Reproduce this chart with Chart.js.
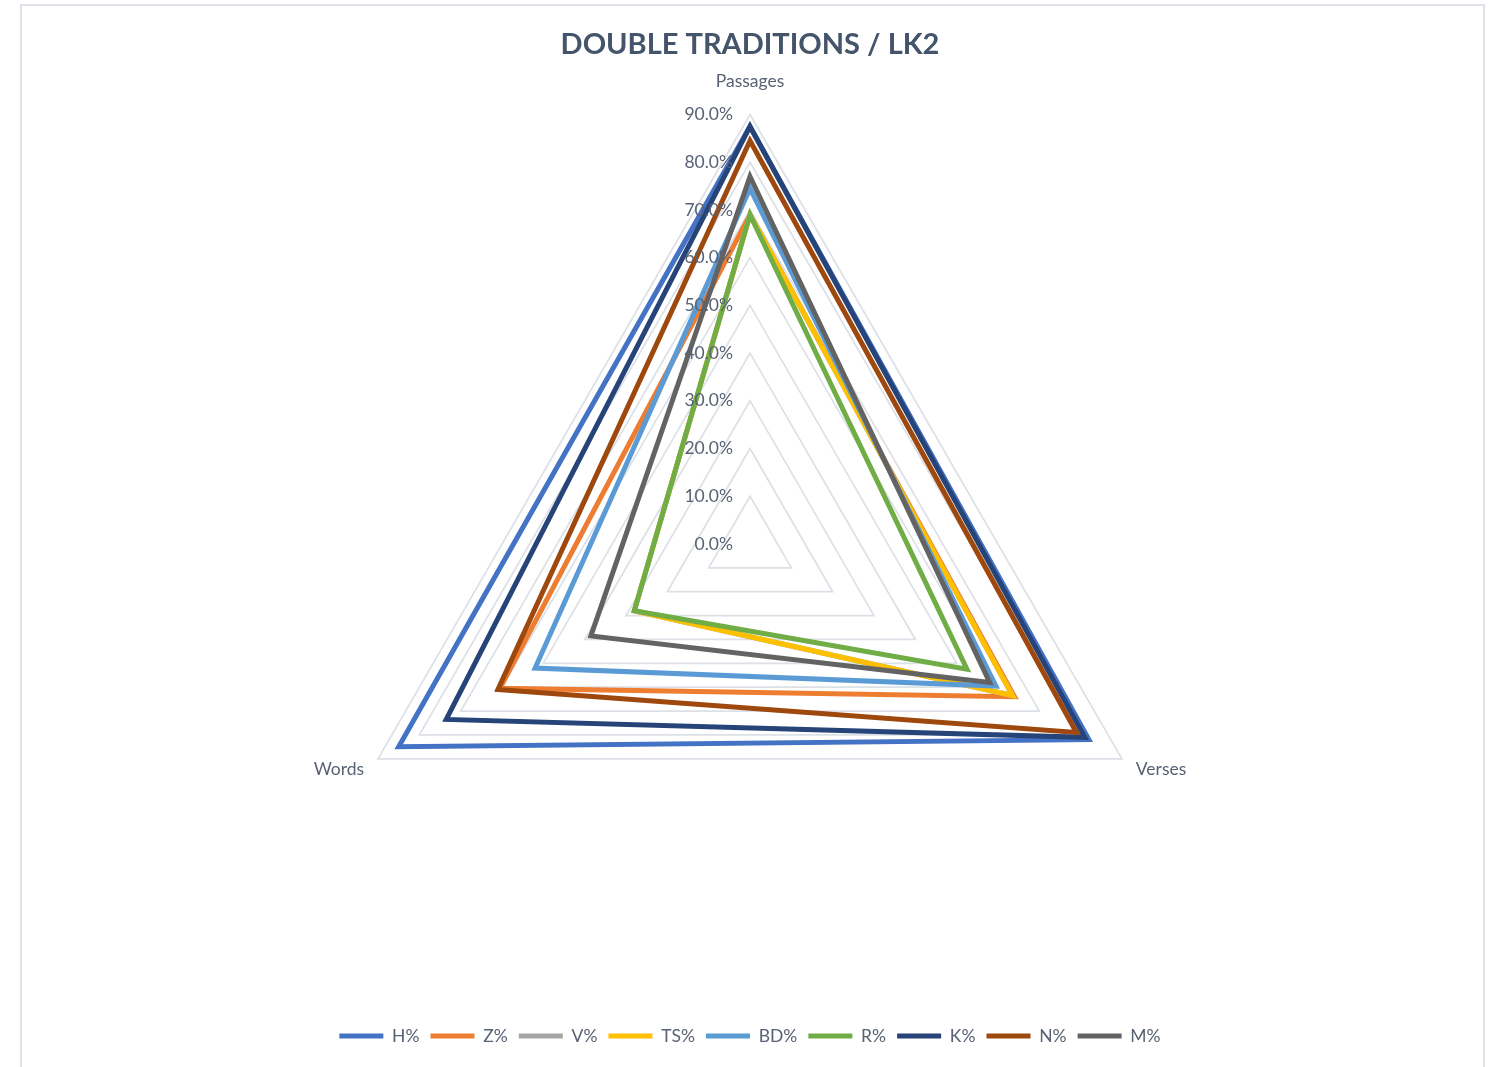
<!DOCTYPE html>
<html lang="en">
<head>
    <meta charset="UTF-8">
    <script src="https://cdn.jsdelivr.net/npm/chart.js"></script>
    <title>Double Traditions / LK2</title>
    <style>
        body { margin: 0; background: #fff; overflow: hidden; }
    </style>
</head>
<body>
    <canvas id="radar" width="1503" height="1067"></canvas>
    <script>
        // axes: top, bottom-right, bottom-left (clockwise)
        const categories = ['Passages', 'Verses', 'Words'];
        const seriesNames = ['H%', 'Z%', 'V%', 'TS%', 'BD%', 'R%', 'K%', 'N%', 'M%'];
        const H  = [87.5, 82.0, 85.0];
        const Z  = [69.0, 64.0, 60.5];
        const V  = [69.0, 63.5, 28.0];
        const TS = [69.0, 63.5, 28.0];
        const BD = [74.5, 59.5, 52.0];
        const R  = [69.0, 52.5, 28.0];
        const K  = [87.5, 81.0, 73.5];
        const N  = [84.5, 79.0, 61.0];
        const M  = [77.0, 58.0, 38.5];
        const tickValues = [0, 10, 20, 30, 40, 50, 60, 70, 80, 90];
        const tickLabels = ['0.0%', '10.0%', '20.0%', '30.0%', '40.0%', '50.0%', '60.0%', '70.0%', '80.0%', '90.0%'];

        const values = [H, Z, V, TS, BD, R, K, N, M];
        const colors = ['#4472C4', '#ED7D31', '#A5A5A5', '#FFC000', '#5B9BD5', '#70AD47', '#264478', '#9E480E', '#636363'];
        const TEXT = '#586274';
        const FONT_SIZE = 17.5;

        // tick labels sit left of the vertical axis, right aligned, on top of the lines
        const tickLabelPlugin = {
            id: 'tickLabels',
            afterDatasetsDraw(chart) {
                const r = chart.scales.r;
                const ctx = chart.ctx;
                ctx.save();
                ctx.font = FONT_SIZE + 'px Lato';
                ctx.fillStyle = TEXT;
                ctx.textAlign = 'right';
                ctx.textBaseline = 'middle';
                tickValues.forEach((v, i) => {
                    const y = r.yCenter - r.getDistanceFromCenterForValue(v);
                    ctx.fillText(tickLabels[i], r.xCenter - 17, y);
                });
                ctx.restore();
            }
        };

        // thin frame like the Excel chart area
        const framePlugin = {
            id: 'frame',
            beforeDraw(chart) {
                const ctx = chart.ctx;
                ctx.save();
                ctx.strokeStyle = '#dde2e9';
                ctx.lineWidth = 2;
                ctx.strokeRect(21, 5, 1463, 1100);
                ctx.restore();
            }
        };

        const datasets = seriesNames.map((name, i) => ({
            label: name,
            data: values[i],
            borderColor: colors[i],
            backgroundColor: colors[i],
            borderWidth: 5,
            borderCapStyle: 'round',
            borderJoinStyle: 'miter',
            fill: false,
            pointRadius: 0,
            pointHoverRadius: 0,
            order: seriesNames.length - i   // later series drawn on top
        }));

        new Chart(document.getElementById('radar').getContext('2d'), {
            type: 'radar',
            data: { labels: categories, datasets: datasets },
            options: {
                responsive: false,
                animation: false,
                layout: { padding: { top: 0, left: 0, right: 3, bottom: 12.25 } },
                scales: {
                    r: {
                        min: 0,
                        max: 90,
                        ticks: { display: false, stepSize: 10 },
                        angleLines: { display: false },
                        grid: { color: '#dce1e8', lineWidth: 1.75 },
                        pointLabels: {
                            color: TEXT,
                            font: (ctx) => ({ family: 'Lato', size: FONT_SIZE, lineHeight: ctx.index === 0 ? 1.2 : 0.3 }),
                            padding: (ctx) => ctx.index === 0 ? 22.5 : 16
                        }
                    }
                },
                plugins: {
                    title: {
                        display: true,
                        text: 'DOUBLE TRADITIONS / LK2',
                        color: '#44546A',
                        font: { family: 'Lato', size: 29, weight: 'bold', lineHeight: 0.35 },
                        padding: { top: 39.4, bottom: 0.45 }
                    },
                    legend: {
                        position: 'bottom',
                        title: { display: true, text: '', font: { size: 12 }, padding: { top: 2.4, bottom: 2.45 } },
                        labels: {
                            usePointStyle: true,
                            pointStyle: 'line',
                            pointStyleWidth: 44,
                            padding: 11,
                            color: TEXT,
                            font: { family: 'Lato', size: FONT_SIZE },
                            sort: (a, b) => a.datasetIndex - b.datasetIndex
                        }
                    },
                    tooltip: { enabled: false }
                }
            },
            plugins: [framePlugin, tickLabelPlugin]
        });
    </script>
</body>
</html>
